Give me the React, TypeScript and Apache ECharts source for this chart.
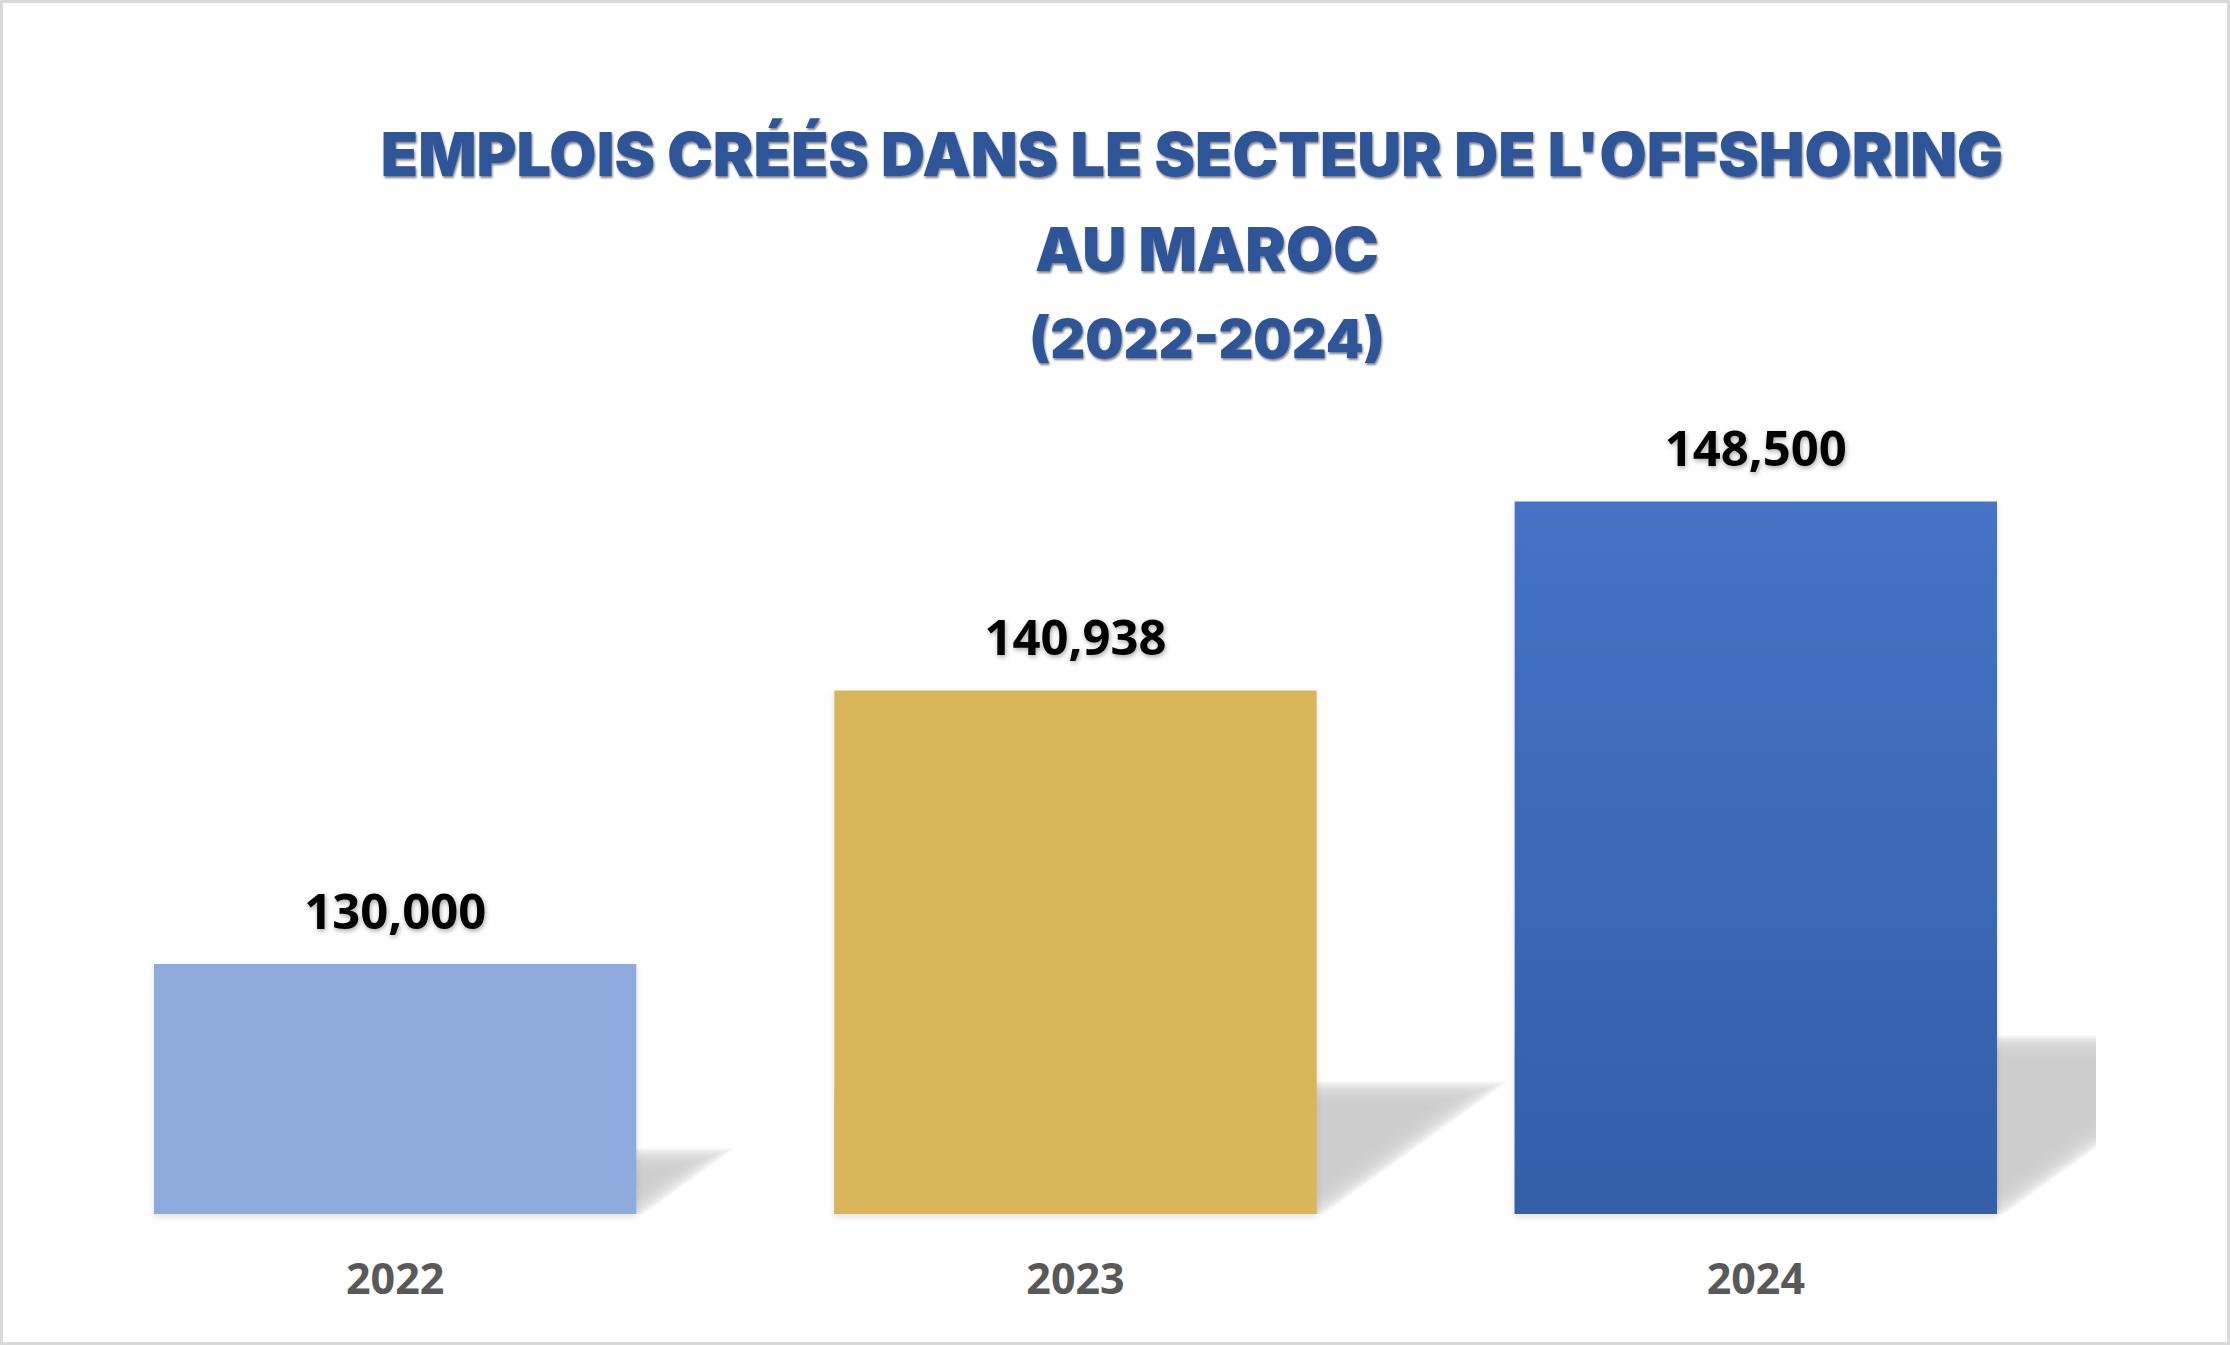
import React, { useEffect, useRef } from "react";
import * as echarts from "echarts";

const categories = ["2022", "2023", "2024"];
const jobs = [130000, 140938, 148500];
const titleLines = ["EMPLOIS CRÉÉS DANS LE SECTEUR DE L'OFFSHORING", "AU MAROC", "(2022-2024)"];

const Y_MIN = 120000;
const Y_MAX = 160000;
const BAR_RATIO = 482 / 680;

const barColors: any[] = [
  "#8FAADC",
  "#DAB65A",
  new echarts.graphic.LinearGradient(0, 0, 0, 1, [
    { offset: 0, color: "#4573C5" },
    { offset: 1, color: "#345EA8" },
  ]),
];

export default function App() {
  const ref = useRef<HTMLDivElement>(null);
  useEffect(() => {
    if (!ref.current) return;
    const chart = echarts.init(ref.current, undefined, { renderer: "svg" });
    const titleShadow = {
      textShadowColor: "rgba(0,0,0,0.5)",
      textShadowBlur: 2,
      textShadowOffsetX: 1,
      textShadowOffsetY: 2,
    };
    const SKEW_X = 0.34;
    const SKEW_Y = 0.245;
    const D_OUT = -4;
    const D_IN = 22;
    const LAYERS = 14;
    const sinA = Math.sin(Math.atan2(SKEW_Y, SKEW_X));
    chart.setOption({
      animation: false,
      backgroundColor: "#ffffff",
      grid: { left: 55, right: 134, top: 214, bottom: 131, containLabel: false },
      xAxis: {
        type: "category",
        data: categories,
        axisLine: { show: false },
        axisTick: { show: false },
        axisLabel: {
          color: "#595959",
          fontFamily: "Open Sans",
          fontWeight: "bold",
          fontSize: 43,
          margin: 42,
        },
      },
      yAxis: {
        type: "value",
        min: Y_MIN,
        max: Y_MAX,
        show: false,
        splitLine: { show: false },
      },
      graphic: [
        {
          type: "rect",
          shape: { x: 1.5, y: 1.5, width: 2227, height: 1342 },
          style: { fill: "none", stroke: "#d9d9d9", lineWidth: 3 },
          silent: true,
          z: 100,
        },
        {
          type: "text",
          x: 1192,
          y: 154,
          style: {
            text: titleLines[0],
            align: "center",
            verticalAlign: "middle",
            fill: "#2F5597",
            font: "900 61px Inter",
            ...titleShadow,
          },
        },
        {
          type: "text",
          x: 1207,
          y: 249,
          style: {
            text: titleLines[1],
            align: "center",
            verticalAlign: "middle",
            fill: "#2F5597",
            font: "900 61px Inter",
            ...titleShadow,
          },
        },
        {
          type: "text",
          x: 1207,
          y: 338,
          style: {
            text: titleLines[2],
            align: "center",
            verticalAlign: "middle",
            fill: "#2F5597",
            font: "900 54px Inter",
            ...titleShadow,
          },
        },
      ],
      series: [
        {
          type: "custom",
          z: 1,
          clip: true,
          silent: true,
          data: jobs.map((v, i) => [i, v]),
          renderItem: (params: any, api: any) => {
            const i = api.value(0);
            const v = api.value(1);
            const base = api.coord([i, Y_MIN]);
            const top = api.coord([i, v]);
            const half = (api.size([1, 0])[0] * BAR_RATIO) / 2;
            const h = base[1] - top[1];
            const xl = base[0] - half;
            const xr = base[0] + half;
            const by = base[1];
            const children: any[] = [];
            for (let k = 0; k < LAYERS; k++) {
              const d = D_OUT + ((D_IN - D_OUT) * k) / (LAYERS - 1);
              const dx = d / sinA;
              const yTop = by - SKEW_Y * h + d;
              const xTopRight = xr - dx + (by - yTop) * (SKEW_X / SKEW_Y);
              children.push({
                type: "polygon",
                shape: {
                  points: [
                    [xl, by + 20],
                    [xr - dx - (20 * SKEW_X) / SKEW_Y, by + 20],
                    [xTopRight, yTop],
                    [xl, yTop],
                  ],
                },
                style: { fill: "rgba(204,204,204,0.22)" },
              });
            }
            return { type: "group", children };
          },
        },
        {
          type: "bar",
          z: 2,
          barWidth: "70.9%",
          data: jobs.map((v, i) => ({
            value: v,
            itemStyle: {
              color: barColors[i],
              shadowColor: "rgba(0,0,0,0.12)",
              shadowBlur: 6,
              shadowOffsetY: 3,
            },
          })),
          label: {
            show: true,
            position: "top",
            distance: 30,
            color: "#000000",
            fontFamily: "Open Sans",
            fontWeight: "bold",
            fontSize: 49,
            textShadowColor: "rgba(0,0,0,0.35)",
            textShadowBlur: 5,
            textShadowOffsetX: 1,
            textShadowOffsetY: 2,
            formatter: (p: any) => Number(p.value).toLocaleString("en-US"),
          },
        },
      ],
    });
    return () => chart.dispose();
  }, []);
  return (
    <div
      ref={ref}
      style={{ position: "absolute", left: 0, top: 0, width: 2230, height: 1345 }}
    />
  );
}
